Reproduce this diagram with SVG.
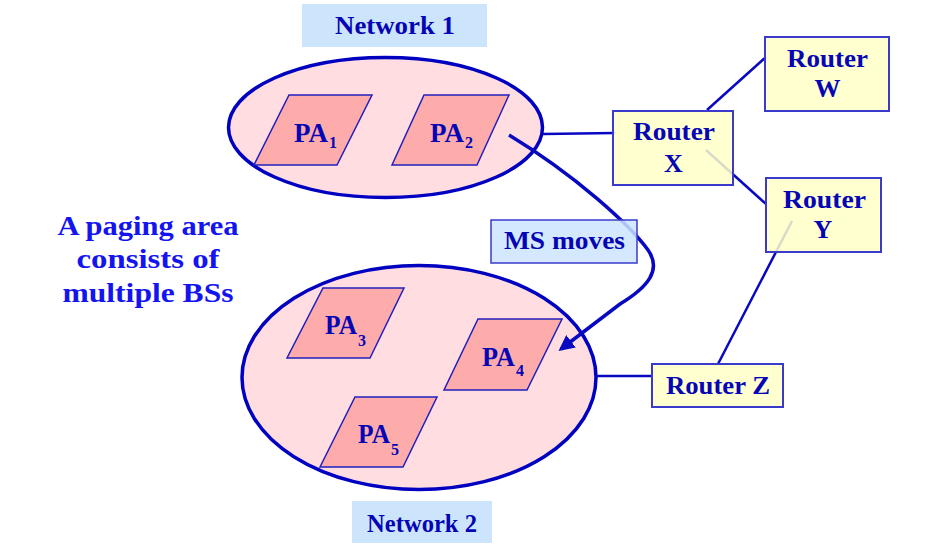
<svg xmlns="http://www.w3.org/2000/svg" width="928" height="553" viewBox="0 0 928 553">
<style>
  text { font-family: "Liberation Serif", "DejaVu Serif", serif; font-weight: bold; fill: #0505b5; }
  .lbl { font-size: 26px; }
  .net-t { font-size: 25px; }
  .pa { font-size: 27px; }
  .sub { font-size: 16px; }
  .side { font-size: 27px; fill: #1414f0; text-anchor: middle; }
  .net { fill: #cce5fd; }
  .ell { fill: #ffdde0; stroke: #0000c0; stroke-width: 3.5; }
  .para { fill: #fdabab; stroke: #2020c0; stroke-width: 1.5; }
  .router { fill: #ffffc8; fill-opacity: 0.85; stroke: #3a3acc; stroke-width: 2; }
  .conn { stroke: #0808c0; stroke-width: 2.5; fill: none; }
  .move { stroke: #0808c0; stroke-width: 3.5; fill: none; }
</style>
<defs>
  <marker id="arrow" viewBox="0 0 10 10" refX="8" refY="5" markerWidth="4.5" markerHeight="4.5" orient="auto" markerUnits="strokeWidth">
    <path d="M0,0 L10,5 L0,10 z" fill="#0808c0"/>
  </marker>
</defs>
<rect width="928" height="553" fill="#ffffff"/>

<g id="network1">
  <rect class="net" x="302" y="4" width="185" height="43"/>
  <text class="net-t" x="335" y="34" textLength="120" lengthAdjust="spacingAndGlyphs">Network 1</text>
  <ellipse class="ell" cx="385.5" cy="127.5" rx="157" ry="70"/>
</g>
<g id="pa1">
  <polygon class="para" points="289,95 372,95 337,165 254,165"/>
  <text class="pa" x="294" y="142" textLength="34" lengthAdjust="spacingAndGlyphs">PA</text>
  <text class="sub" x="329" y="148">1</text>
</g>
<g id="pa2">
  <polygon class="para" points="424,95 509,95 477,165 392,165"/>
  <text class="pa" x="430" y="142" textLength="34" lengthAdjust="spacingAndGlyphs">PA</text>
  <text class="sub" x="465" y="148">2</text>
</g>

<g id="network2">
  <ellipse class="ell" cx="419" cy="377.5" rx="177" ry="112"/>
  <rect class="net" x="352" y="501" width="140" height="42"/>
  <text class="net-t" x="367" y="532" textLength="110" lengthAdjust="spacingAndGlyphs">Network 2</text>
</g>
<g id="pa3">
  <polygon class="para" points="323,288 404,288 370,358 287,358"/>
  <text class="pa" x="325" y="334" textLength="32" lengthAdjust="spacingAndGlyphs">PA</text>
  <text class="sub" x="358" y="346">3</text>
</g>
<g id="pa4">
  <polygon class="para" points="478,319 562,319 527,390 444,390"/>
  <text class="pa" x="482" y="366" textLength="33" lengthAdjust="spacingAndGlyphs">PA</text>
  <text class="sub" x="516" y="376">4</text>
</g>
<g id="pa5">
  <polygon class="para" points="355,397 437,397 403,467 320,467"/>
  <text class="pa" x="358" y="443" textLength="32" lengthAdjust="spacingAndGlyphs">PA</text>
  <text class="sub" x="391" y="455">5</text>
</g>

<g id="connectors">
  <line class="conn" x1="543" y1="134" x2="615" y2="133"/>
  <line class="conn" x1="707" y1="110" x2="766" y2="57"/>
  <line class="conn" x1="706" y1="150" x2="766" y2="204"/>
  <line class="conn" x1="792" y1="221" x2="718" y2="364"/>
  <line class="conn" x1="596" y1="376" x2="653" y2="376"/>
  <path class="move" d="M509,135 C575,175 630,225 648,250 C662,270 648,287 620,304 L561,349" marker-end="url(#arrow)"/>
</g>

<g id="routerW">
  <rect class="router" x="765" y="37" width="124" height="74"/>
  <text class="lbl" x="787" y="67" textLength="81" lengthAdjust="spacingAndGlyphs">Router</text>
  <text class="lbl" x="827.5" y="97" text-anchor="middle">W</text>
</g>
<g id="routerX">
  <rect class="router" x="613" y="111" width="120" height="74"/>
  <text class="lbl" x="633" y="140" textLength="82" lengthAdjust="spacingAndGlyphs">Router</text>
  <text class="lbl" x="673.5" y="172" text-anchor="middle">X</text>
</g>
<g id="routerY">
  <rect class="router" x="766" y="178" width="115" height="74"/>
  <text class="lbl" x="783" y="208" textLength="83" lengthAdjust="spacingAndGlyphs">Router</text>
  <text class="lbl" x="823" y="238" text-anchor="middle">Y</text>
</g>
<g id="routerZ">
  <rect class="router" x="652" y="364" width="131" height="43"/>
  <text class="lbl" x="666" y="394" textLength="104" lengthAdjust="spacingAndGlyphs">Router Z</text>
</g>

<g id="msMoves">
  <rect x="491" y="220" width="146" height="43" fill="#cce5ff" fill-opacity="0.85" stroke="#3a3acc" stroke-width="1.5"/>
  <text class="lbl" x="504" y="249" textLength="121" lengthAdjust="spacingAndGlyphs">MS moves</text>
</g>

<g id="caption">
  <text class="side" x="148" y="235" textLength="181" lengthAdjust="spacingAndGlyphs">A paging area</text>
  <text class="side" x="148" y="268" textLength="143" lengthAdjust="spacingAndGlyphs">consists of</text>
  <text class="side" x="148" y="302" textLength="171" lengthAdjust="spacingAndGlyphs">multiple BSs</text>
</g>
</svg>
